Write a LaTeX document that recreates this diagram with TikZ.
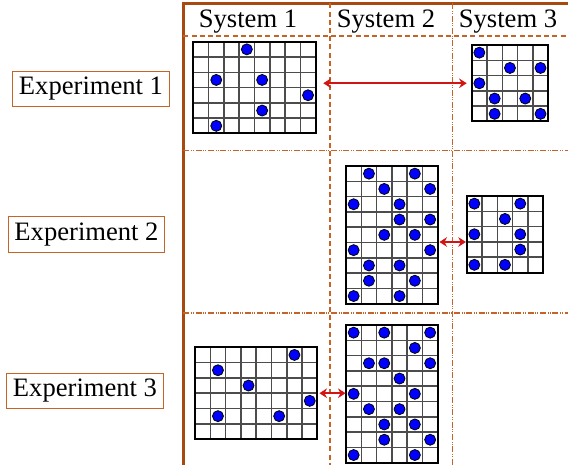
\documentclass[tikz,border=0pt]{standalone}
\usepackage{fontspec}
\setmainfont{Liberation Serif}
\usetikzlibrary{arrows.meta}
\definecolor{rulebrown}{RGB}{170,72,18}
\definecolor{sepbrown}{RGB}{196,100,40}
\definecolor{arrred}{RGB}{210,20,20}
\tikzset{
  cell/.style={black!70, line width=0.75pt},
  frame/.style={draw, line width=1pt, inner sep=0pt, outer sep=0pt, anchor=north west},
  dot/.style={fill=blue, draw=black, line width=0.4pt},
  expbox/.style={draw=sepbrown, line width=0.5pt, inner sep=3pt, minimum height=16.5pt},
  dashdotdot/.style={dash pattern=on 3pt off 0.8pt on 0.4pt off 0.6pt on 0.4pt off 0.95pt},
  link/.style={arrred, line width=1pt, {Stealth[length=3.8pt,width=4.8pt]}-{Stealth[length=3.8pt,width=4.8pt]}}
}
% #1 name, #2 top left corner, #3 columns, #4 rows, #5 occupied cells
\newcommand\lattice[5]{%
  \begin{scope}[shift={#2}]
    \foreach \i in {1,...,#3} \draw[cell] (\i*15.3,0)--(\i*15.3,#4*15.3);
    \foreach \j in {1,...,#4} \draw[cell] (0,\j*15.3)--(#3*15.3,\j*15.3);
    \node[frame, minimum width=#3*7.65pt, minimum height=#4*7.65pt] (#1) at (0,0) {};
    \foreach \c/\r in {#5} \draw[dot] (\c*15.3+7.65,\r*15.3+7.65) circle[radius=2.75pt];
  \end{scope}}
\begin{document}
\begin{tikzpicture}[x=0.5pt, y=-0.5pt, font=\fontsize{13.3}{15}\selectfont]
	\useasboundingbox (0,0) rectangle (568,465);
	% table rules
	\draw[rulebrown, line width=1.5pt] (183.3,465)--(183.3,3.5)--(568,3.5);
	\draw[sepbrown, line width=0.6pt, dash pattern=on 2.5pt off 1.6pt] (183.3,36)--(568,36);
	\draw[sepbrown, line width=0.6pt, dash pattern=on 2.5pt off 1.6pt] (330,3.5)--(330,465);
	\draw[sepbrown, line width=0.6pt, dashdotdot] (452.5,3.5)--(452.5,465);
	\foreach \y in {150.5,313} \draw[sepbrown, line width=0.6pt, dashdotdot] (183.3,\y)--(568,\y);
	% headers
	\node[anchor=base] (sys1) at (248,28) {System 1};
	\node[anchor=base] (sys2) at (386,28) {System 2};
	\node[anchor=base] (sys3) at (508,28) {System 3};
	\node[expbox] (exp1) at (91,89) {Experiment 1};
	\node[expbox] (exp2) at (86.5,234.5) {Experiment 2};
	\node[expbox] (exp3) at (85,391) {Experiment 3};
	% lattices
	\lattice{e1s1}{(193.3,41.7)}{8}{6}{3/0,1/2,4/2,7/3,4/4,1/5}
	\lattice{e1s3}{(471.7,45)}{5}{5}{0/0,2/1,4/1,0/2,1/3,3/3,1/4,4/4}
	\lattice{e2s2}{(346,166)}{6}{9}{1/0,4/0,2/1,5/1,0/2,3/2,3/3,5/3,2/4,4/4,0/5,5/5,1/6,3/6,1/7,4/7,0/8,3/8}
	\lattice{e2s3}{(466.7,196)}{5}{5}{0/0,3/0,2/1,0/2,3/2,3/3,0/4,2/4}
	\lattice{e3s1}{(195,347.3)}{8}{6}{6/0,1/1,3/2,7/3,1/4,5/4}
	\lattice{e3s2}{(346,325)}{6}{9}{0/0,2/0,5/0,4/1,1/2,2/2,5/2,3/3,0/4,4/4,1/5,3/5,2/6,4/6,2/7,5/7,0/8,4/8}
	% exchanges
	\draw[link, shorten <=3.8pt, shorten >=2.5pt] (e1s1.east |- e1s3.west)--(e1s3.west);
	\draw[link, shorten <=0.8pt, shorten >=0.4pt] (e2s2.east |- 0,242)--(e2s3.west |- 0,242);
	\draw[link, shorten <=1pt, shorten >=0.2pt] (e3s1.east)--(e3s2.west |- e3s1.east);
\end{tikzpicture}
\end{document}
